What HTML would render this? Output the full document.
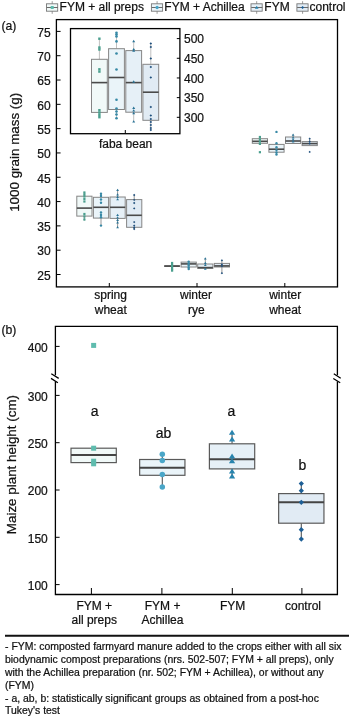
<!DOCTYPE html>
<html><head><meta charset="utf-8"><title>figure</title>
<style>
html,body{margin:0;padding:0;background:#fff;width:350px;height:718px;overflow:hidden;}
svg{display:block;will-change:transform;font-family:"Liberation Sans",sans-serif;fill:#000;}
text{fill:#111;stroke:#111;stroke-width:0.22px;}
</style></head><body>
<svg width="350" height="718" viewBox="0 0 350 718">
<rect width="350" height="718" fill="#fff"/>
<line x1="52.2" y1="1.2" x2="52.2" y2="13.8" stroke="#9a9a9a" stroke-width="1"/><rect x="46.5" y="3.8" width="11.2" height="7.4" fill="#f1f9f8" stroke="#777" stroke-width="0.9"/><line x1="46.7" y1="7.5" x2="57.9" y2="7.5" stroke="#6a6a6a" stroke-width="1.0"/><rect x="50.7" y="6" width="3" height="3" fill="#5fbcae"/>
<text x="59.6" y="11.2" font-size="12" text-anchor="start">FYM + all preps</text>
<line x1="157.1" y1="1.2" x2="157.1" y2="13.8" stroke="#9a9a9a" stroke-width="1"/><rect x="151.4" y="3.8" width="11.2" height="7.4" fill="#eaf4f9" stroke="#777" stroke-width="0.9"/><line x1="151.6" y1="7.5" x2="162.8" y2="7.5" stroke="#6a6a6a" stroke-width="1.0"/><circle cx="157.1" cy="7.5" r="1.65" fill="#4aa6c8"/>
<text x="164.3" y="11.2" font-size="12" text-anchor="start">FYM + Achillea</text>
<line x1="256.7" y1="1.2" x2="256.7" y2="13.8" stroke="#9a9a9a" stroke-width="1"/><rect x="251" y="3.8" width="11.2" height="7.4" fill="#e6f0f7" stroke="#777" stroke-width="0.9"/><line x1="251.2" y1="7.5" x2="262.4" y2="7.5" stroke="#6a6a6a" stroke-width="1.0"/><path d="M256.7 5.7L258.57 8.7L254.82 8.7Z" fill="#2884ae"/>
<text x="264.3" y="11.2" font-size="12" text-anchor="start">FYM</text>
<line x1="302.6" y1="1.2" x2="302.6" y2="13.8" stroke="#9a9a9a" stroke-width="1"/><rect x="296.9" y="3.8" width="11.2" height="7.4" fill="#e1ebf4" stroke="#777" stroke-width="0.9"/><line x1="297.1" y1="7.5" x2="308.3" y2="7.5" stroke="#6a6a6a" stroke-width="1.0"/><path d="M302.6 5.92L304.18 7.5L302.6 9.07L301.03 7.5Z" fill="#1d5f96"/>
<text x="309.5" y="11.2" font-size="12" text-anchor="start">control</text>
<text x="1.4" y="29.9" font-size="12.2" text-anchor="start">(a)</text>
<rect x="56.4" y="19.6" width="281.1" height="267.3" fill="none" stroke="#000" stroke-width="1.3"/>
<line x1="56.4" y1="31.4" x2="60.6" y2="31.4" stroke="#000" stroke-width="1"/>
<text x="50.6" y="36.7" font-size="12" text-anchor="end">75</text>
<line x1="56.4" y1="55.71" x2="60.6" y2="55.71" stroke="#000" stroke-width="1"/>
<text x="50.6" y="61.01" font-size="12" text-anchor="end">70</text>
<line x1="56.4" y1="80.02" x2="60.6" y2="80.02" stroke="#000" stroke-width="1"/>
<text x="50.6" y="85.32" font-size="12" text-anchor="end">65</text>
<line x1="56.4" y1="104.33" x2="60.6" y2="104.33" stroke="#000" stroke-width="1"/>
<text x="50.6" y="109.63" font-size="12" text-anchor="end">60</text>
<line x1="56.4" y1="128.64" x2="60.6" y2="128.64" stroke="#000" stroke-width="1"/>
<text x="50.6" y="133.94" font-size="12" text-anchor="end">55</text>
<line x1="56.4" y1="152.95" x2="60.6" y2="152.95" stroke="#000" stroke-width="1"/>
<text x="50.6" y="158.25" font-size="12" text-anchor="end">50</text>
<line x1="56.4" y1="177.26" x2="60.6" y2="177.26" stroke="#000" stroke-width="1"/>
<text x="50.6" y="182.56" font-size="12" text-anchor="end">45</text>
<line x1="56.4" y1="201.57" x2="60.6" y2="201.57" stroke="#000" stroke-width="1"/>
<text x="50.6" y="206.87" font-size="12" text-anchor="end">40</text>
<line x1="56.4" y1="225.88" x2="60.6" y2="225.88" stroke="#000" stroke-width="1"/>
<text x="50.6" y="231.18" font-size="12" text-anchor="end">35</text>
<line x1="56.4" y1="250.19" x2="60.6" y2="250.19" stroke="#000" stroke-width="1"/>
<text x="50.6" y="255.49" font-size="12" text-anchor="end">30</text>
<line x1="56.4" y1="274.5" x2="60.6" y2="274.5" stroke="#000" stroke-width="1"/>
<text x="50.6" y="279.8" font-size="12" text-anchor="end">25</text>
<line x1="109.3" y1="287" x2="109.3" y2="283" stroke="#000" stroke-width="1"/>
<line x1="197" y1="287" x2="197" y2="283" stroke="#000" stroke-width="1"/>
<line x1="284.8" y1="287" x2="284.8" y2="283" stroke="#000" stroke-width="1"/>
<text x="110.6" y="299.2" font-size="12" text-anchor="middle">spring</text>
<text x="110.8" y="313.8" font-size="12" text-anchor="middle">wheat</text>
<text x="196" y="299.2" font-size="12" text-anchor="middle">winter</text>
<text x="196.4" y="313.8" font-size="12" text-anchor="middle">rye</text>
<text x="285.2" y="299.2" font-size="12" text-anchor="middle">winter</text>
<text x="285.2" y="313.8" font-size="12" text-anchor="middle">wheat</text>
<text transform="translate(18.5 152.3) rotate(-90)" font-size="13.4" text-anchor="middle">1000 grain mass (g)</text>
<line x1="84.4" y1="191.9" x2="84.4" y2="196.2" stroke="#8a8a8a" stroke-width="0.9"/><line x1="84.4" y1="216.1" x2="84.4" y2="220.4" stroke="#8a8a8a" stroke-width="0.9"/><rect x="76.8" y="196.2" width="15.2" height="19.9" fill="#f1f9f8" stroke="#858585" stroke-width="1.0"/><line x1="76.8" y1="208.1" x2="92" y2="208.1" stroke="#4a4a4a" stroke-width="1.6"/><rect x="83.3" y="191.4" width="2.2" height="2.2" fill="#4a9f8e"/><rect x="83.3" y="193.4" width="2.2" height="2.2" fill="#4a9f8e"/><rect x="83.3" y="195.4" width="2.2" height="2.2" fill="#4a9f8e"/><rect x="83.3" y="197.9" width="2.2" height="2.2" fill="#4a9f8e"/><rect x="83.3" y="200.4" width="2.2" height="2.2" fill="#4a9f8e"/><rect x="83.3" y="212.9" width="2.2" height="2.2" fill="#4a9f8e"/><rect x="83.3" y="215.4" width="2.2" height="2.2" fill="#4a9f8e"/><rect x="83.3" y="218.4" width="2.2" height="2.2" fill="#4a9f8e"/>
<line x1="101" y1="193" x2="101" y2="197.3" stroke="#8a8a8a" stroke-width="0.9"/><line x1="101" y1="218.1" x2="101" y2="225.6" stroke="#8a8a8a" stroke-width="0.9"/><rect x="93.4" y="197.3" width="15.2" height="20.8" fill="#eaf4f9" stroke="#858585" stroke-width="1.0"/><line x1="93.4" y1="207.3" x2="108.6" y2="207.3" stroke="#4a4a4a" stroke-width="1.6"/><circle cx="101" cy="193.8" r="1.21" fill="#3789a6"/><circle cx="101" cy="196" r="1.21" fill="#3789a6"/><circle cx="101" cy="199.5" r="1.21" fill="#3789a6"/><circle cx="101" cy="202.7" r="1.21" fill="#3789a6"/><circle cx="101" cy="212.5" r="1.21" fill="#3789a6"/><circle cx="101" cy="215" r="1.21" fill="#3789a6"/><circle cx="101" cy="217.3" r="1.21" fill="#3789a6"/><circle cx="101" cy="225.6" r="1.21" fill="#3789a6"/>
<line x1="117.6" y1="189.6" x2="117.6" y2="197" stroke="#8a8a8a" stroke-width="0.9"/><line x1="117.6" y1="218.4" x2="117.6" y2="227.3" stroke="#8a8a8a" stroke-width="0.9"/><rect x="110" y="197" width="15.2" height="21.4" fill="#e6f0f7" stroke="#858585" stroke-width="1.0"/><line x1="110" y1="207.3" x2="125.2" y2="207.3" stroke="#4a4a4a" stroke-width="1.6"/><path d="M117.6 188.68L118.97 190.88L116.22 190.88Z" fill="#2a7396"/><path d="M117.6 193.18L118.97 195.38L116.22 195.38Z" fill="#2a7396"/><path d="M117.6 195.68L118.97 197.88L116.22 197.88Z" fill="#2a7396"/><path d="M117.6 197.98L118.97 200.18L116.22 200.18Z" fill="#2a7396"/><path d="M117.6 213.68L118.97 215.88L116.22 215.88Z" fill="#2a7396"/><path d="M117.6 216.18L118.97 218.38L116.22 218.38Z" fill="#2a7396"/><path d="M117.6 218.68L118.97 220.88L116.22 220.88Z" fill="#2a7396"/><path d="M117.6 221.18L118.97 223.38L116.22 223.38Z" fill="#2a7396"/><path d="M117.6 225.98L118.97 228.18L116.22 228.18Z" fill="#2a7396"/>
<line x1="134.2" y1="195" x2="134.2" y2="199.6" stroke="#8a8a8a" stroke-width="0.9"/><line x1="134.2" y1="227.3" x2="134.2" y2="229" stroke="#8a8a8a" stroke-width="0.9"/><rect x="126.6" y="199.6" width="15.2" height="27.7" fill="#e1ebf4" stroke="#858585" stroke-width="1.0"/><line x1="126.6" y1="215.3" x2="141.8" y2="215.3" stroke="#4a4a4a" stroke-width="1.6"/><path d="M134.2 193.84L135.35 195L134.2 196.16L133.04 195Z" fill="#1f4f7c"/><path d="M134.2 198.75L135.35 199.9L134.2 201.06L133.04 199.9Z" fill="#1f4f7c"/><path d="M134.2 201.84L135.35 203L134.2 204.16L133.04 203Z" fill="#1f4f7c"/><path d="M134.2 207.25L135.35 208.4L134.2 209.56L133.04 208.4Z" fill="#1f4f7c"/><path d="M134.2 220.94L135.35 222.1L134.2 223.25L133.04 222.1Z" fill="#1f4f7c"/><path d="M134.2 224.44L135.35 225.6L134.2 226.75L133.04 225.6Z" fill="#1f4f7c"/><path d="M134.2 226.34L135.35 227.5L134.2 228.66L133.04 227.5Z" fill="#1f4f7c"/><path d="M134.2 227.84L135.35 229L134.2 230.16L133.04 229Z" fill="#1f4f7c"/>
<line x1="172.1" y1="262.4" x2="172.1" y2="265.7" stroke="#8a8a8a" stroke-width="0.9"/><line x1="172.1" y1="266.5" x2="172.1" y2="271" stroke="#8a8a8a" stroke-width="0.9"/><rect x="164.5" y="265.7" width="15.2" height="0.8" fill="#f1f9f8" stroke="#858585" stroke-width="1.0"/><line x1="164.5" y1="266.1" x2="179.7" y2="266.1" stroke="#4a4a4a" stroke-width="1.6"/><rect x="171" y="261.9" width="2.2" height="2.2" fill="#4a9f8e"/><rect x="171" y="263.9" width="2.2" height="2.2" fill="#4a9f8e"/><rect x="171" y="265.9" width="2.2" height="2.2" fill="#4a9f8e"/><rect x="171" y="267.9" width="2.2" height="2.2" fill="#4a9f8e"/><rect x="171" y="269.5" width="2.2" height="2.2" fill="#4a9f8e"/>
<line x1="188.7" y1="261.3" x2="188.7" y2="262.1" stroke="#8a8a8a" stroke-width="0.9"/><line x1="188.7" y1="267" x2="188.7" y2="269.3" stroke="#8a8a8a" stroke-width="0.9"/><rect x="181.1" y="262.1" width="15.2" height="4.9" fill="#eaf4f9" stroke="#858585" stroke-width="1.0"/><line x1="181.1" y1="263.9" x2="196.3" y2="263.9" stroke="#4a4a4a" stroke-width="1.6"/><circle cx="188.7" cy="261.6" r="1.21" fill="#3789a6"/><circle cx="188.7" cy="263.5" r="1.21" fill="#3789a6"/><circle cx="188.7" cy="265.5" r="1.21" fill="#3789a6"/><circle cx="188.7" cy="267.5" r="1.21" fill="#3789a6"/><circle cx="188.7" cy="269" r="1.21" fill="#3789a6"/>
<line x1="205.3" y1="258.5" x2="205.3" y2="264" stroke="#8a8a8a" stroke-width="0.9"/><line x1="205.3" y1="268.4" x2="205.3" y2="269" stroke="#8a8a8a" stroke-width="0.9"/><rect x="197.7" y="264" width="15.2" height="4.4" fill="#e6f0f7" stroke="#858585" stroke-width="1.0"/><line x1="197.7" y1="267.6" x2="212.9" y2="267.6" stroke="#4a4a4a" stroke-width="1.6"/><path d="M205.3 257.18L206.68 259.38L203.93 259.38Z" fill="#2a7396"/><path d="M205.3 261.68L206.68 263.88L203.93 263.88Z" fill="#2a7396"/><path d="M205.3 263.68L206.68 265.88L203.93 265.88Z" fill="#2a7396"/><path d="M205.3 267.48L206.68 269.68L203.93 269.68Z" fill="#2a7396"/>
<line x1="221.9" y1="260.3" x2="221.9" y2="263.4" stroke="#8a8a8a" stroke-width="0.9"/><line x1="221.9" y1="267" x2="221.9" y2="273.2" stroke="#8a8a8a" stroke-width="0.9"/><rect x="214.3" y="263.4" width="15.2" height="3.6" fill="#e1ebf4" stroke="#858585" stroke-width="1.0"/><line x1="214.3" y1="265.9" x2="229.5" y2="265.9" stroke="#4a4a4a" stroke-width="1.6"/><path d="M221.9 259.15L223.06 260.3L221.9 261.45L220.75 260.3Z" fill="#1f4f7c"/><path d="M221.9 263.35L223.06 264.5L221.9 265.65L220.75 264.5Z" fill="#1f4f7c"/><path d="M221.9 265.05L223.06 266.2L221.9 267.35L220.75 266.2Z" fill="#1f4f7c"/><path d="M221.9 272.05L223.06 273.2L221.9 274.35L220.75 273.2Z" fill="#1f4f7c"/>
<line x1="259.9" y1="137" x2="259.9" y2="138.7" stroke="#8a8a8a" stroke-width="0.9"/><line x1="259.9" y1="143.3" x2="259.9" y2="143.9" stroke="#8a8a8a" stroke-width="0.9"/><rect x="252.3" y="138.7" width="15.2" height="4.6" fill="#f1f9f8" stroke="#858585" stroke-width="1.0"/><line x1="252.3" y1="141.3" x2="267.5" y2="141.3" stroke="#4a4a4a" stroke-width="1.6"/><rect x="258.8" y="135.9" width="2.2" height="2.2" fill="#4a9f8e"/><rect x="258.8" y="138.4" width="2.2" height="2.2" fill="#4a9f8e"/><rect x="258.8" y="140.5" width="2.2" height="2.2" fill="#4a9f8e"/><rect x="258.8" y="142.8" width="2.2" height="2.2" fill="#4a9f8e"/><rect x="258.8" y="151.1" width="2.2" height="2.2" fill="#4a9f8e"/>
<line x1="276.5" y1="143.3" x2="276.5" y2="144.4" stroke="#8a8a8a" stroke-width="0.9"/><line x1="276.5" y1="152.2" x2="276.5" y2="154.5" stroke="#8a8a8a" stroke-width="0.9"/><rect x="268.9" y="144.4" width="15.2" height="7.8" fill="#eaf4f9" stroke="#858585" stroke-width="1.0"/><line x1="268.9" y1="149.2" x2="284.1" y2="149.2" stroke="#4a4a4a" stroke-width="1.6"/><circle cx="276.5" cy="131.9" r="1.21" fill="#3789a6"/><circle cx="276.5" cy="143.3" r="1.21" fill="#3789a6"/><circle cx="276.5" cy="147.3" r="1.21" fill="#3789a6"/><circle cx="276.5" cy="150.1" r="1.21" fill="#3789a6"/><circle cx="276.5" cy="152.5" r="1.21" fill="#3789a6"/><circle cx="276.5" cy="154.5" r="1.21" fill="#3789a6"/>
<line x1="293.1" y1="134.6" x2="293.1" y2="137" stroke="#8a8a8a" stroke-width="0.9"/><line x1="293.1" y1="143.5" x2="293.1" y2="143.5" stroke="#8a8a8a" stroke-width="0.9"/><rect x="285.5" y="137" width="15.2" height="6.5" fill="#e6f0f7" stroke="#858585" stroke-width="1.0"/><line x1="285.5" y1="141" x2="300.7" y2="141" stroke="#4a4a4a" stroke-width="1.6"/><path d="M293.1 133.48L294.48 135.68L291.73 135.68Z" fill="#2a7396"/><path d="M293.1 136.18L294.48 138.38L291.73 138.38Z" fill="#2a7396"/><path d="M293.1 138.18L294.48 140.38L291.73 140.38Z" fill="#2a7396"/><path d="M293.1 140.18L294.48 142.38L291.73 142.38Z" fill="#2a7396"/>
<line x1="309.7" y1="138.7" x2="309.7" y2="141.6" stroke="#8a8a8a" stroke-width="0.9"/><line x1="309.7" y1="145.6" x2="309.7" y2="145.6" stroke="#8a8a8a" stroke-width="0.9"/><rect x="302.1" y="141.6" width="15.2" height="4" fill="#e1ebf4" stroke="#858585" stroke-width="1.0"/><line x1="302.1" y1="143.6" x2="317.3" y2="143.6" stroke="#4a4a4a" stroke-width="1.6"/><path d="M309.7 137.54L310.85 138.7L309.7 139.85L308.55 138.7Z" fill="#1f4f7c"/><path d="M309.7 140.34L310.85 141.5L309.7 142.66L308.55 141.5Z" fill="#1f4f7c"/><path d="M309.7 142.34L310.85 143.5L309.7 144.66L308.55 143.5Z" fill="#1f4f7c"/><path d="M309.7 150.75L310.85 151.9L309.7 153.06L308.55 151.9Z" fill="#1f4f7c"/>
<rect x="70.5" y="28.6" width="109.4" height="105.1" fill="#fff" stroke="#000" stroke-width="1.3"/>
<line x1="176.8" y1="38.6" x2="180" y2="38.6" stroke="#000" stroke-width="1"/>
<text x="184" y="43.2" font-size="12" text-anchor="start">500</text>
<line x1="176.8" y1="58.28" x2="180" y2="58.28" stroke="#000" stroke-width="1"/>
<text x="184" y="62.88" font-size="12" text-anchor="start">450</text>
<line x1="176.8" y1="77.96" x2="180" y2="77.96" stroke="#000" stroke-width="1"/>
<text x="184" y="82.56" font-size="12" text-anchor="start">400</text>
<line x1="176.8" y1="97.64" x2="180" y2="97.64" stroke="#000" stroke-width="1"/>
<text x="184" y="102.24" font-size="12" text-anchor="start">350</text>
<line x1="176.8" y1="117.32" x2="180" y2="117.32" stroke="#000" stroke-width="1"/>
<text x="184" y="121.92" font-size="12" text-anchor="start">300</text>
<line x1="125.3" y1="133.5" x2="125.3" y2="130" stroke="#000" stroke-width="1"/>
<text x="125.6" y="147.5" font-size="12" text-anchor="middle">faba bean</text>
<line x1="99.4" y1="38.7" x2="99.4" y2="59.3" stroke="#b9b9b9" stroke-width="0.9"/><line x1="99.4" y1="112.4" x2="99.4" y2="117.5" stroke="#b9b9b9" stroke-width="0.9"/><rect x="91.5" y="59.3" width="15.8" height="53.1" fill="#f1f9f8" stroke="#858585" stroke-width="1.0"/><line x1="91.5" y1="82.6" x2="107.3" y2="82.6" stroke="#4a4a4a" stroke-width="1.6"/><rect x="98.2" y="37.5" width="2.4" height="2.4" fill="#4a9f8e"/><rect x="98.2" y="46.3" width="2.4" height="2.4" fill="#4a9f8e"/><rect x="98.2" y="48.3" width="2.4" height="2.4" fill="#4a9f8e"/><rect x="98.2" y="68.1" width="2.4" height="2.4" fill="#4a9f8e"/><rect x="98.2" y="70.4" width="2.4" height="2.4" fill="#4a9f8e"/><rect x="98.2" y="109" width="2.4" height="2.4" fill="#4a9f8e"/><rect x="98.2" y="111.3" width="2.4" height="2.4" fill="#4a9f8e"/><rect x="98.2" y="113.6" width="2.4" height="2.4" fill="#4a9f8e"/><rect x="98.2" y="116" width="2.4" height="2.4" fill="#4a9f8e"/>
<line x1="116.5" y1="32.7" x2="116.5" y2="48.7" stroke="#b9b9b9" stroke-width="0.9"/><line x1="116.5" y1="109.5" x2="116.5" y2="118.3" stroke="#b9b9b9" stroke-width="0.9"/><rect x="108.6" y="48.7" width="15.8" height="60.8" fill="#eaf4f9" stroke="#858585" stroke-width="1.0"/><line x1="108.6" y1="77.5" x2="124.4" y2="77.5" stroke="#4a4a4a" stroke-width="1.6"/><circle cx="116.5" cy="32.7" r="1.32" fill="#3789a6"/><circle cx="116.5" cy="34.6" r="1.32" fill="#3789a6"/><circle cx="116.5" cy="36.5" r="1.32" fill="#3789a6"/><circle cx="116.5" cy="41.4" r="1.32" fill="#3789a6"/><circle cx="116.5" cy="53.5" r="1.32" fill="#3789a6"/><circle cx="116.5" cy="69.5" r="1.32" fill="#3789a6"/><circle cx="116.5" cy="99.8" r="1.32" fill="#3789a6"/><circle cx="116.5" cy="108.5" r="1.32" fill="#3789a6"/><circle cx="116.5" cy="111.5" r="1.32" fill="#3789a6"/><circle cx="116.5" cy="114.5" r="1.32" fill="#3789a6"/><circle cx="116.5" cy="118.2" r="1.32" fill="#3789a6"/>
<line x1="133.7" y1="41" x2="133.7" y2="50.6" stroke="#b9b9b9" stroke-width="0.9"/><line x1="133.7" y1="112.2" x2="133.7" y2="121.6" stroke="#b9b9b9" stroke-width="0.9"/><rect x="125.8" y="50.6" width="15.8" height="61.6" fill="#e6f0f7" stroke="#858585" stroke-width="1.0"/><line x1="125.8" y1="82.6" x2="141.6" y2="82.6" stroke="#4a4a4a" stroke-width="1.6"/><path d="M133.7 39.76L135.2 42.16L132.2 42.16Z" fill="#2a7396"/><path d="M133.7 47.96L135.2 50.36L132.2 50.36Z" fill="#2a7396"/><path d="M133.7 49.36L135.2 51.76L132.2 51.76Z" fill="#2a7396"/><path d="M133.7 80.26L135.2 82.66L132.2 82.66Z" fill="#2a7396"/><path d="M133.7 106.56L135.2 108.96L132.2 108.96Z" fill="#2a7396"/><path d="M133.7 109.16L135.2 111.56L132.2 111.56Z" fill="#2a7396"/><path d="M133.7 111.76L135.2 114.16L132.2 114.16Z" fill="#2a7396"/><path d="M133.7 120.16L135.2 122.56L132.2 122.56Z" fill="#2a7396"/>
<line x1="150.8" y1="43.3" x2="150.8" y2="64.3" stroke="#b9b9b9" stroke-width="0.9"/><line x1="150.8" y1="120.3" x2="150.8" y2="130" stroke="#b9b9b9" stroke-width="0.9"/><rect x="142.9" y="64.3" width="15.8" height="56" fill="#e1ebf4" stroke="#858585" stroke-width="1.0"/><line x1="142.9" y1="92.2" x2="158.7" y2="92.2" stroke="#4a4a4a" stroke-width="1.6"/><path d="M150.8 42.34L152.06 43.6L150.8 44.86L149.54 43.6Z" fill="#1f4f7c"/><path d="M150.8 45.74L152.06 47L150.8 48.26L149.54 47Z" fill="#1f4f7c"/><path d="M150.8 57.14L152.06 58.4L150.8 59.66L149.54 58.4Z" fill="#1f4f7c"/><path d="M150.8 65.74L152.06 67L150.8 68.26L149.54 67Z" fill="#1f4f7c"/><path d="M150.8 76.24L152.06 77.5L150.8 78.76L149.54 77.5Z" fill="#1f4f7c"/><path d="M150.8 105.74L152.06 107L150.8 108.26L149.54 107Z" fill="#1f4f7c"/><path d="M150.8 114.14L152.06 115.4L150.8 116.66L149.54 115.4Z" fill="#1f4f7c"/><path d="M150.8 117.74L152.06 119L150.8 120.26L149.54 119Z" fill="#1f4f7c"/><path d="M150.8 120.74L152.06 122L150.8 123.26L149.54 122Z" fill="#1f4f7c"/><path d="M150.8 123.74L152.06 125L150.8 126.26L149.54 125Z" fill="#1f4f7c"/><path d="M150.8 126.74L152.06 128L150.8 129.26L149.54 128Z" fill="#1f4f7c"/><path d="M150.8 128.74L152.06 130L150.8 131.26L149.54 130Z" fill="#1f4f7c"/>
<text x="1.4" y="334.3" font-size="12.2" text-anchor="start">(b)</text>
<path d="M55.4 375.2V326.4H337.4V375.2 M55.4 381.6V594.5H337.4V381.6" fill="none" stroke="#000" stroke-width="1.3"/>
<path d="M51.3 373.7L58.7 378.4M51 378.4L57.9 382.7M333.8 373.8L340.7 378.3M333.3 378.5L340.2 382.8" stroke="#000" stroke-width="1.25"/>
<line x1="55.4" y1="346.4" x2="59.6" y2="346.4" stroke="#000" stroke-width="1"/>
<text x="47.8" y="351.8" font-size="12" text-anchor="end">400</text>
<line x1="55.4" y1="395.4" x2="59.6" y2="395.4" stroke="#000" stroke-width="1"/>
<text x="47.8" y="400.8" font-size="12" text-anchor="end">300</text>
<line x1="55.4" y1="442.7" x2="59.6" y2="442.7" stroke="#000" stroke-width="1"/>
<text x="47.8" y="448.1" font-size="12" text-anchor="end">250</text>
<line x1="55.4" y1="490" x2="59.6" y2="490" stroke="#000" stroke-width="1"/>
<text x="47.8" y="495.4" font-size="12" text-anchor="end">200</text>
<line x1="55.4" y1="537.3" x2="59.6" y2="537.3" stroke="#000" stroke-width="1"/>
<text x="47.8" y="542.7" font-size="12" text-anchor="end">150</text>
<line x1="55.4" y1="584.6" x2="59.6" y2="584.6" stroke="#000" stroke-width="1"/>
<text x="47.8" y="590" font-size="12" text-anchor="end">100</text>
<line x1="91.4" y1="594.5" x2="91.4" y2="588" stroke="#000" stroke-width="1"/>
<line x1="161.9" y1="594.5" x2="161.9" y2="588" stroke="#000" stroke-width="1"/>
<line x1="232.3" y1="594.5" x2="232.3" y2="588" stroke="#000" stroke-width="1"/>
<line x1="301.9" y1="594.5" x2="301.9" y2="588" stroke="#000" stroke-width="1"/>
<text x="94.3" y="609.6" font-size="12" text-anchor="middle">FYM +</text>
<text x="94.3" y="624.2" font-size="12" text-anchor="middle">all preps</text>
<text x="162.6" y="609.6" font-size="12" text-anchor="middle">FYM +</text>
<text x="162.4" y="624.2" font-size="12" text-anchor="middle">Achillea</text>
<text x="232.7" y="609.6" font-size="12" text-anchor="middle">FYM</text>
<text x="303" y="609.6" font-size="12" text-anchor="middle">control</text>
<text transform="translate(16.0 464.6) rotate(-90)" font-size="13.4" text-anchor="middle">Maize plant height (cm)</text>
<line x1="93.65" y1="448.2" x2="93.65" y2="448.2" stroke="#555" stroke-width="1.1"/><line x1="93.65" y1="462.6" x2="93.65" y2="464" stroke="#555" stroke-width="1.1"/><rect x="71" y="448.2" width="45.3" height="14.4" fill="#f1f9f8" stroke="#5a5a5a" stroke-width="1.2"/><line x1="71" y1="455" x2="116.3" y2="455" stroke="#444" stroke-width="2.0"/>
<rect x="91.15" y="342.9" width="5" height="5" fill="#5fbcae"/>
<rect x="91.15" y="445.7" width="5" height="5" fill="#5fbcae"/>
<rect x="91.15" y="458.7" width="5" height="5" fill="#5fbcae"/>
<rect x="91.15" y="461.3" width="5" height="5" fill="#5fbcae"/>
<line x1="162.3" y1="454.3" x2="162.3" y2="459.5" stroke="#555" stroke-width="1.1"/><line x1="162.3" y1="475.3" x2="162.3" y2="487.1" stroke="#555" stroke-width="1.1"/><rect x="139.65" y="459.5" width="45.3" height="15.8" fill="#eaf4f9" stroke="#5a5a5a" stroke-width="1.2"/><line x1="139.65" y1="467.7" x2="184.95" y2="467.7" stroke="#444" stroke-width="2.0"/>
<circle cx="162.3" cy="454.3" r="2.75" fill="#4aa6c8"/>
<circle cx="162.3" cy="460.4" r="2.75" fill="#4aa6c8"/>
<circle cx="162.3" cy="474.5" r="2.75" fill="#4aa6c8"/>
<circle cx="162.3" cy="487.1" r="2.75" fill="#4aa6c8"/>
<line x1="232.05" y1="432.8" x2="232.05" y2="443.8" stroke="#555" stroke-width="1.1"/><line x1="232.05" y1="468.9" x2="232.05" y2="477" stroke="#555" stroke-width="1.1"/><rect x="209.4" y="443.8" width="45.3" height="25.1" fill="#e6f0f7" stroke="#5a5a5a" stroke-width="1.2"/><line x1="209.4" y1="459.3" x2="254.7" y2="459.3" stroke="#444" stroke-width="2.0"/>
<path d="M232.05 429.8L235.18 434.8L228.93 434.8Z" fill="#2884ae"/>
<path d="M232.05 436.4L235.18 441.4L228.93 441.4Z" fill="#2884ae"/>
<path d="M232.05 453.5L235.18 458.5L228.93 458.5Z" fill="#2884ae"/>
<path d="M232.05 458.3L235.18 463.3L228.93 463.3Z" fill="#2884ae"/>
<path d="M232.05 468.5L235.18 473.5L228.93 473.5Z" fill="#2884ae"/>
<path d="M232.05 473.5L235.18 478.5L228.93 478.5Z" fill="#2884ae"/>
<line x1="301.3" y1="483.6" x2="301.3" y2="493.6" stroke="#555" stroke-width="1.1"/><line x1="301.3" y1="523.2" x2="301.3" y2="539.1" stroke="#555" stroke-width="1.1"/><rect x="278.65" y="493.6" width="45.3" height="29.6" fill="#e1ebf4" stroke="#5a5a5a" stroke-width="1.2"/><line x1="278.65" y1="502.2" x2="323.95" y2="502.2" stroke="#444" stroke-width="2.0"/>
<path d="M301.3 480.98L303.93 483.6L301.3 486.23L298.68 483.6Z" fill="#1d5f96"/>
<path d="M301.3 488.07L303.93 490.7L301.3 493.32L298.68 490.7Z" fill="#1d5f96"/>
<path d="M301.3 499.68L303.93 502.3L301.3 504.93L298.68 502.3Z" fill="#1d5f96"/>
<path d="M301.3 527.08L303.93 529.7L301.3 532.33L298.68 529.7Z" fill="#1d5f96"/>
<path d="M301.3 536.48L303.93 539.1L301.3 541.73L298.68 539.1Z" fill="#1d5f96"/>
<text x="94.75" y="416" font-size="14" text-anchor="middle">a</text>
<text x="163.5" y="437.6" font-size="14" text-anchor="middle">ab</text>
<text x="231.3" y="416" font-size="14" text-anchor="middle">a</text>
<text x="302.3" y="470.2" font-size="14" text-anchor="middle">b</text>
<line x1="5" y1="635.8" x2="349" y2="635.8" stroke="#111" stroke-width="1.9"/>
<text x="5" y="650.1" font-size="10.45" text-anchor="start">- FYM: composted farmyard manure added to the crops either with all six</text>
<text x="5" y="663" font-size="10.45" text-anchor="start">biodynamic compost preparations (nrs. 502-507; FYM + all preps), only</text>
<text x="5" y="675.9" font-size="10.45" text-anchor="start">with the Achillea preparation (nr. 502; FYM + Achillea), or without any</text>
<text x="5" y="688.7" font-size="10.45" text-anchor="start">(FYM)</text>
<text x="5" y="701.6" font-size="10.45" text-anchor="start">- a, ab, b: statistically significant groups as obtained from a post-hoc</text>
<text x="5" y="714.4" font-size="10.45" text-anchor="start">Tukey's test</text>
</svg>
</body></html>
